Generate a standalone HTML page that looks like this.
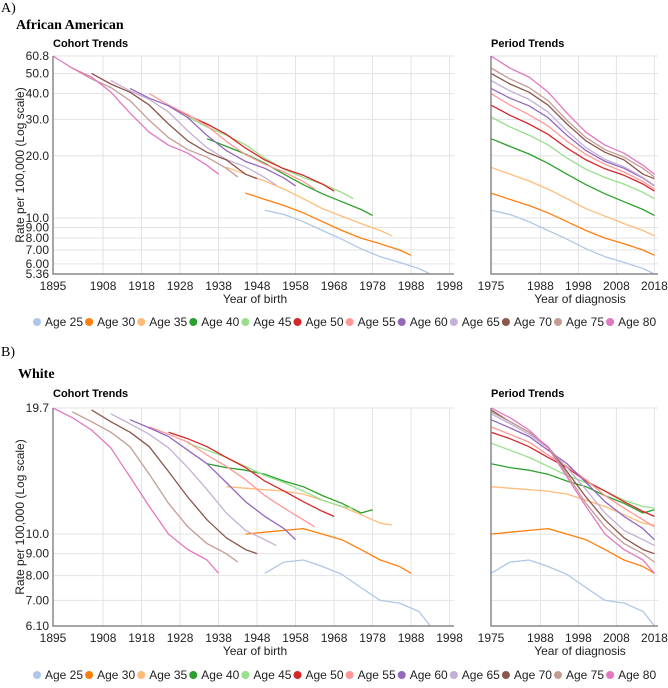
<!DOCTYPE html>
<html><head><meta charset="utf-8">
<style>
html,body{margin:0;padding:0;background:#fff;}
body{width:668px;height:683px;overflow:hidden;}
svg text{font-family:"Liberation Sans",Arial,sans-serif;}
</style></head>
<body>
<svg id="chart" width="668" height="683" viewBox="0 0 668 683" xmlns="http://www.w3.org/2000/svg">
<text x="1" y="12" font-size="14" style="font-family:'Liberation Serif',serif">A)</text>
<text x="16" y="29" font-size="14" font-weight="bold" style="font-family:'Liberation Serif',serif">African American</text>
<text x="1" y="356" font-size="14" style="font-family:'Liberation Serif',serif">B)</text>
<text x="18" y="378" font-size="14" font-weight="bold" style="font-family:'Liberation Serif',serif">White</text>
</svg>
<script>
const ages = [25,30,35,40,45,50,55,60,65,70,75,80];
const colors = ['#aec7e8','#ff7f0e','#ffbb78','#2ca02c','#98df8a','#d62728','#ff9896','#9467bd','#c5b0d5','#8c564b','#c49c94','#e377c2'];
const periodYears = [1975,1980,1985,1990,1995,2000,2005,2010,2015,2018];
const cohortTicks = [1895,1908,1918,1928,1938,1948,1958,1968,1978,1988,1998];
const periodTicks = [1975,1988,1998,2008,2018];
const ticksA = [60.8,50.0,40.0,30.0,20.0,10.0,9.00,8.00,7.00,6.00,5.36];
const tickLabelsA = ['60.8','50.0','40.0','30.0','20.0','10.0','9.00','8.00','7.00','6.00','5.36'];
const ticksB = [19.7,10.0,9.00,8.00,7.00,6.10];
const tickLabelsB = ['19.7','10.0','9.00','8.00','7.00','6.10'];
// African American rates by age (rows) at periodYears
const ratesA25 = [10.9,10.4,9.6,8.7,7.9,7.1,6.5,6.1,5.7,5.36];
const ratesA30 = [13.2,12.3,11.5,10.6,9.6,8.7,8.0,7.5,7.0,6.6];
const ratesA35 = [17.6,16.3,15.1,13.8,12.4,11.1,10.2,9.4,8.7,8.2];
const ratesA40 = [24.2,22.2,20.4,18.4,16.3,14.5,13.1,12.0,11.0,10.3];
const ratesA45 = [30.8,27.6,25.2,22.6,19.5,17.2,15.7,14.6,13.3,12.4];
const ratesA50 = [35.2,31.4,28.5,25.4,21.8,19.1,17.3,16.1,14.6,13.5];
const ratesA55 = [40.0,35.2,31.6,27.9,23.5,20.3,18.2,16.7,15.0,13.8];
const ratesA60 = [42.4,38.0,34.9,30.6,25.1,21.2,18.8,17.4,15.6,14.3];
const ratesA65 = [46.3,41.2,37.5,32.6,26.4,21.9,19.2,17.7,15.7,14.4];
const ratesA70 = [50.1,44.5,40.6,35.2,28.5,23.6,20.8,19.1,16.3,15.5];
const ratesA75 = [53.2,47.1,42.8,37.0,29.7,24.5,21.4,19.7,17.4,15.8];
const ratesA80 = [60.8,53.1,48.1,40.7,32.2,26.0,22.5,20.6,18.0,16.3];
// White rates
const ratesB25 = [8.1,8.6,8.7,8.4,8.05,7.5,7.0,6.9,6.6,6.1];
const ratesB30 = [10.0,10.1,10.2,10.3,10.0,9.7,9.2,8.7,8.4,8.1];
const ratesB35 = [12.9,12.8,12.7,12.6,12.4,12.0,11.6,11.1,10.6,10.5];
const ratesB40 = [14.6,14.3,14.1,13.8,13.3,12.9,12.3,11.8,11.2,11.4];
const ratesB45 = [16.3,15.7,15.1,14.4,13.7,13.2,12.6,12.0,11.6,11.5];
const ratesB50 = [17.3,16.7,16.0,15.1,14.3,13.3,12.6,11.9,11.3,11.0];
const ratesB55 = [17.8,17.1,16.4,15.3,14.4,13.4,12.3,11.5,10.8,10.4];
const ratesB60 = [18.5,17.7,16.9,15.7,14.6,13.2,11.9,11.0,10.3,9.7];
const ratesB65 = [19.1,18.1,17.1,15.9,14.3,12.7,11.2,10.2,9.7,9.4];
const ratesB70 = [19.5,18.3,17.3,16.0,14.0,12.2,10.8,9.8,9.2,9.0];
const ratesB75 = [19.3,18.3,17.3,16.0,13.8,11.8,10.4,9.5,9.0,8.6];
const ratesB80 = [19.7,18.7,17.5,15.9,13.6,11.6,10.0,9.2,8.7,8.1];
const seriesA = [ratesA25,ratesA30,ratesA35,ratesA40,ratesA45,ratesA50,ratesA55,ratesA60,ratesA65,ratesA70,ratesA75,ratesA80];
const seriesB = [ratesB25,ratesB30,ratesB35,ratesB40,ratesB45,ratesB50,ratesB55,ratesB60,ratesB65,ratesB70,ratesB75,ratesB80];

const NS='http://www.w3.org/2000/svg';
const svg=document.getElementById('chart');
function mk(tag,attrs,parent){const e=document.createElementNS(NS,tag);for(const k in attrs)e.setAttribute(k,attrs[k]);(parent||svg).appendChild(e);return e;}

function panel(cfg){
  const {top,bottom,ymin,ymax,ticks,tickLabels,series,prefix,titleY,legendY}=cfg;
  const yScale=v=>bottom-(Math.log(v/ymin)/Math.log(ymax/ymin))*(bottom-top);
  const cx=yr=>53+(yr-1895)*3.85;
  const px=yr=>491+(yr-1975)*3.8;
  const g=mk('g',{});
  
  
  let t=mk('text',{x:53,y:titleY,'font-size':11,'font-weight':'bold',fill:'#000'},g);t.textContent='Cohort Trends';
  
  t=mk('text',{x:491,y:titleY,'font-size':11,'font-weight':'bold',fill:'#000'},g);t.textContent='Period Trends';
  
  ticks.forEach((v,i)=>{
    const y=yScale(v);
    let l=mk('line',{x1:53,x2:454,y1:y,y2:y,stroke:'#e3e3e3','stroke-width':1},g);
    
    l=mk('line',{x1:491,x2:658,y1:y,y2:y,stroke:'#e3e3e3','stroke-width':1},g);
    
    const tx=mk('text',{x:49,y:y+4,'font-size':12,'text-anchor':'end',fill:'#222'},g);
    tx.textContent=tickLabels[i];
    
  });
  cohortTicks.forEach(yr=>{
    const x=cx(yr);
    const l=mk('line',{x1:x,x2:x,y1:top,y2:bottom,stroke:'#e3e3e3','stroke-width':1},g);
    
    const tx=mk('text',{x:x,y:bottom+16,'font-size':12,'text-anchor':'middle',fill:'#222'},g);
    tx.textContent=yr;
    
  });
  periodTicks.forEach(yr=>{
    const x=px(yr);
    const l=mk('line',{x1:x,x2:x,y1:top,y2:bottom,stroke:'#e3e3e3','stroke-width':1},g);
    
    const tx=mk('text',{x:x,y:bottom+16,'font-size':12,'text-anchor':'middle',fill:'#222'},g);
    tx.textContent=yr;
    
  });
  series.forEach((vals,i)=>{
    const age=ages[i];
    const cpts=vals.map((v,j)=>cx(periodYears[j]-age).toFixed(1)+','+yScale(v).toFixed(1)).join(' ');
    let pl=mk('polyline',{points:cpts,fill:'none',stroke:colors[i],'stroke-width':1.3,'stroke-linejoin':'round'},g);
    
    const ppts=vals.map((v,j)=>px(periodYears[j]).toFixed(1)+','+yScale(v).toFixed(1)).join(' ');
    pl=mk('polyline',{points:ppts,fill:'none',stroke:colors[i],'stroke-width':1.3,'stroke-linejoin':'round'},g);
    
  });
  let a=mk('path',{d:`M53,${top} V${bottom} H454`,fill:'none',stroke:'#888','stroke-width':1.5},g);
  
  a=mk('path',{d:`M491,${top} V${bottom} H658`,fill:'none',stroke:'#888','stroke-width':1.5},g);
  
  const mid=(top+bottom)/2;
  t=mk('text',{x:0,y:0,'font-size':12,'text-anchor':'middle',fill:'#222',transform:`translate(24,${mid}) rotate(-90)`},g);
  t.textContent='Rate per 100,000 (Log scale)';
  
  t=mk('text',{x:255,y:bottom+29,'font-size':12,'text-anchor':'middle',fill:'#222'},g);
  t.textContent='Year of birth';
  
  t=mk('text',{x:580,y:bottom+29,'font-size':12,'text-anchor':'middle',fill:'#222'},g);
  t.textContent='Year of diagnosis';
  
  ages.forEach((age,i)=>{
    const x=37+i*52.1;
    const lg=mk('g',{},g);
    
    mk('circle',{cx:x,cy:legendY,r:4,fill:colors[i]},lg);
    const tx=mk('text',{x:x+8,y:legendY+4,'font-size':12,fill:'#222'},lg);
    tx.textContent='Age '+age;
  });
}
panel({top:56,bottom:274,ymin:5.36,ymax:60.8,ticks:ticksA,tickLabels:tickLabelsA,series:seriesA,prefix:'african-american',titleY:47,legendY:322});
panel({top:408,bottom:626,ymin:6.10,ymax:19.7,ticks:ticksB,tickLabels:tickLabelsB,series:seriesB,prefix:'white',titleY:397,legendY:675});
</script>
</body></html>
